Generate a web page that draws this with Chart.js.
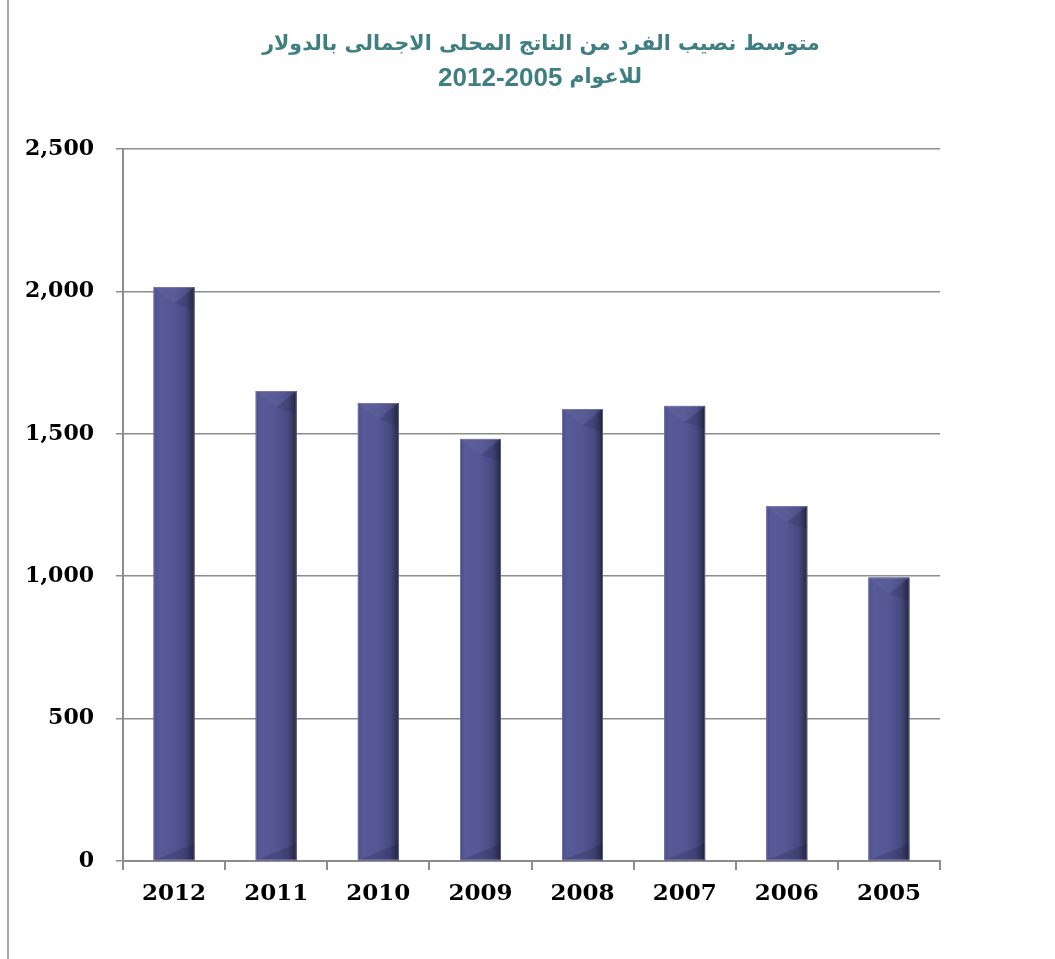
<!DOCTYPE html>
<html><head><meta charset="utf-8">
<script src="https://cdn.jsdelivr.net/npm/chart.js@4.4.1/dist/chart.umd.min.js"></script>
<style>html,body{margin:0;padding:0;background:#fff}#wrap{width:1055px;height:959px;position:relative}</style>
</head><body><div id="wrap"><canvas id="c" width="1055" height="959"></canvas></div>
<script>
const titleLine1 = 'متوسط نصيب الفرد من الناتج المحلى الاجمالى بالدولار';
const titleLine2Words = 'للاعوام';
const titleLine2Years = '2012-2005';
const years = ['2012','2011','2010','2009','2008','2007','2006','2005'];
const gdpPerCapita = [2015, 1650, 1608, 1482, 1587, 1598, 1246, 995];
const yTicks = [0, 500, 1000, 1500, 2000, 2500];

const deco = {
  id: 'deco',
  beforeDraw(chart) {
    const ctx = chart.ctx;
    ctx.save();
    ctx.strokeStyle = '#a6a6a6';
    ctx.lineWidth = 2;
    ctx.beginPath(); ctx.moveTo(8, 0); ctx.lineTo(8, 959); ctx.stroke();
    ctx.fillStyle = '#3f7f82';
    ctx.textBaseline = 'middle';
    ctx.textAlign = 'center';
    const arFont = 'bold 20.6px "DejaVu Sans", sans-serif';
    const numFont = 'bold 26px "Liberation Sans", "DejaVu Sans", sans-serif';
    ctx.font = arFont;
    ctx.fillText(titleLine1, 541, 45);
    // second line: years (left) + Arabic word (right)
    const wAr = ctx.measureText(titleLine2Words).width;
    ctx.font = numFont;
    const wNum = ctx.measureText(titleLine2Years).width;
    const gap = 7;
    const total = wAr + gap + wNum;
    const x0 = 540 - total / 2;
    ctx.textAlign = 'left';
    ctx.fillText(titleLine2Years, x0, 79);
    ctx.font = arFont;
    ctx.fillText(titleLine2Words, x0 + wNum + gap, 78);
    ctx.restore();
  },
  afterDatasetsDraw(chart) {
    const ctx = chart.ctx;
    const meta = chart.getDatasetMeta(0);
    meta.data.forEach(b => {
      const w = b.width, l = b.x - w/2, r = b.x + w/2, t = b.y, bt = b.base;
      const d = Math.min(w*0.4, (bt - t)/2);
      ctx.save();
      const g = ctx.createLinearGradient(l, 0, r, 0);
      g.addColorStop(0, '#4a4d85');
      g.addColorStop(0.12, '#575a96');
      g.addColorStop(0.5, '#535692');
      g.addColorStop(0.78, '#484b82');
      g.addColorStop(0.92, '#34365b');
      g.addColorStop(1, '#1f2036');
      ctx.fillStyle = g;
      ctx.fillRect(l, t, w, bt - t);
      ctx.fillStyle = 'rgba(110,114,170,0.22)';
      ctx.beginPath(); ctx.moveTo(l, t); ctx.lineTo(r, t); ctx.lineTo(b.x, t + d); ctx.closePath(); ctx.fill();
      ctx.fillStyle = 'rgba(15,16,40,0.12)';
      ctx.beginPath(); ctx.moveTo(r, t); ctx.lineTo(r, t + d*1.4); ctx.lineTo(b.x, t + d); ctx.closePath(); ctx.fill();
      ctx.fillStyle = 'rgba(15,16,45,0.18)';
      ctx.beginPath(); ctx.moveTo(l, bt); ctx.lineTo(r, bt); ctx.lineTo(r, bt - d*1.0); ctx.closePath(); ctx.fill();
      ctx.strokeStyle = 'rgba(150,152,200,0.5)';
      ctx.lineWidth = 1;
      ctx.strokeRect(l + 0.5, t + 0.5, w - 1, bt - t - 1);
      ctx.restore();
    });
  }
};

new Chart(document.getElementById('c'), {
  type: 'bar',
  data: {
    labels: years,
    datasets: [{
      data: gdpPerCapita,
      barPercentage: 0.4,
      categoryPercentage: 1.0,
      borderWidth: 0,
      backgroundColor: '#52558e'
    }]
  },
  options: {
    responsive: false,
    animation: false,
    devicePixelRatio: 1,
    layout: { padding: { left: 10, right: 115, top: 149, bottom: 0 } },
    plugins: {
      legend: { display: false },
      tooltip: { enabled: false },
      title: { display: false }
    },
    scales: {
      x: {
        grid: { display: true, drawOnChartArea: false, drawTicks: true, tickLength: 9, color: '#8c8c8c', lineWidth: 2, offset: true },
        border: { color: '#8c8c8c', width: 2 },
        ticks: { color: '#000', padding: 10, font: { family: 'DejaVu Serif, serif', size: 23, weight: 'bold' } },
        afterFit(s) { s.height = 98; }
      },
      y: {
        min: 0, max: 2500,
        afterBuildTicks(s) { s.ticks = yTicks.map(v => ({ value: v })); },
        grid: { color: '#8c8c8c', lineWidth: 1.5, tickLength: 7, drawTicks: true },
        border: { color: '#8c8c8c', width: 2 },
        ticks: {
          color: '#000', padding: 22,
          font: { family: 'DejaVu Serif, serif', size: 22, weight: 'bold' },
          callback: v => v.toLocaleString('en-US')
        },
        afterFit(s) { s.width = 113; }
      }
    }
  },
  plugins: [deco]
});
</script>
</body></html>
